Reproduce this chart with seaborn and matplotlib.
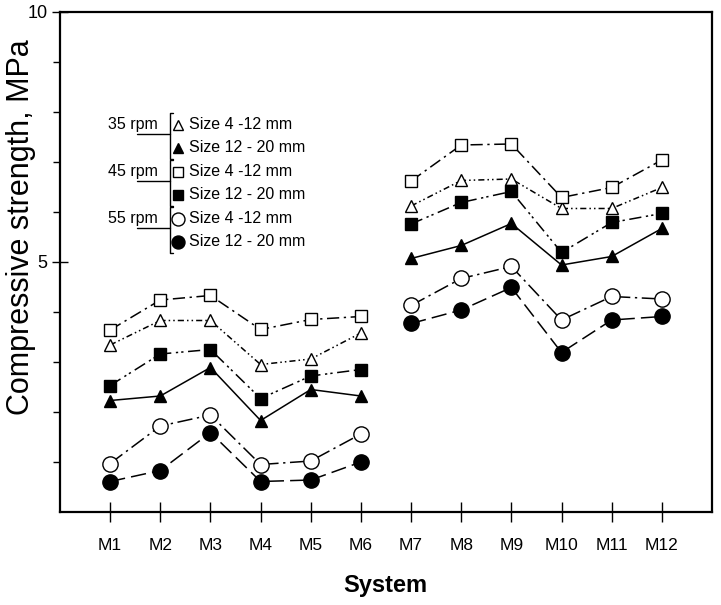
import matplotlib
matplotlib.use("Agg")
import matplotlib.pyplot as plt
from matplotlib.lines import Line2D
import seaborn as sns
import pandas as pd

systems = ["M1", "M2", "M3", "M4", "M5", "M6", "M7", "M8", "M9", "M10", "M11", "M12"]
groups = [1, 1, 1, 1, 1, 1, 2, 2, 2, 2, 2, 2]

# compressive strength, MPa
rpm35_small = [3.34, 3.83, 3.83, 2.95, 3.06, 3.58, 6.12, 6.63, 6.66, 6.07, 6.07, 6.49]
rpm35_large = [2.23, 2.32, 2.89, 1.83, 2.45, 2.32, 5.07, 5.33, 5.77, 4.94, 5.11, 5.67]
rpm45_small = [3.64, 4.24, 4.33, 3.65, 3.85, 3.91, 6.62, 7.34, 7.36, 6.29, 6.49, 7.04]
rpm45_large = [2.53, 3.16, 3.25, 2.27, 2.72, 2.85, 5.76, 6.19, 6.41, 5.19, 5.79, 5.97]
rpm55_small = [0.97, 1.72, 1.94, 0.95, 1.02, 1.56, 4.13, 4.67, 4.91, 3.84, 4.31, 4.26]
rpm55_large = [0.61, 0.83, 1.59, 0.61, 0.64, 1.00, 3.77, 4.04, 4.49, 3.19, 3.84, 3.91]

rpm_labels = ["35 rpm", "45 rpm", "55 rpm"]
size_labels = ["Size 4 -12 mm", "Size 12 - 20 mm"]

# (values, marker, filled, markersize, linestyle)
series = [
    (rpm35_small, "^", False, 8.5, (0, (4, 2, 1, 2, 1, 2))),
    (rpm35_large, "^", True, 8.5, "-"),
    (rpm45_small, "s", False, 8, (0, (8, 3, 1.5, 3))),
    (rpm45_large, "s", True, 8, (0, (8, 3, 1.5, 2, 1.5, 3))),
    (rpm55_small, "o", False, 11, (0, (10, 3, 1.5, 3))),
    (rpm55_large, "o", True, 11, (0, (10, 4))),
]

sns.set_theme(style="ticks", rc={"text.color": "black", "axes.labelcolor": "black",
                                 "xtick.color": "black", "ytick.color": "black",
                                 "axes.edgecolor": "black"})
plt.rcParams["font.family"] = ["Liberation Sans", "DejaVu Sans"]

fig = plt.figure(figsize=(7.21, 6.05), dpi=100)
ax = fig.add_axes([0.0832, 0.1537, 0.9043, 0.8265])

for vals, mk, filled, ms, ls in series:
    df = pd.DataFrame({"System": systems, "Strength": vals, "group": groups})
    sns.lineplot(data=df, x="System", y="Strength", units="group", estimator=None,
                 sort=False, ax=ax, color="black", linewidth=1.1, linestyle=ls,
                 marker=mk, markersize=ms,
                 markerfacecolor="black" if filled else "white",
                 markeredgecolor="black", markeredgewidth=1.0)

ax.set_xlim(-1, 12)
ax.set_ylim(0, 10)
ax.set_yticks([5, 10])
ax.set_yticks([1, 2, 3, 4, 6, 7, 8, 9], minor=True)
ax.tick_params(axis="y", which="major", direction="inout", length=12, width=1,
               labelsize=13, pad=3)
ax.tick_params(axis="y", which="minor", direction="out", length=5, width=1)
ax.tick_params(axis="x", which="major", direction="inout", length=14, width=1,
               labelsize=12.5, pad=12)
for sp in ax.spines.values():
    sp.set_visible(True)
    sp.set_linewidth(1.6)
ax.set_xlabel("")
ax.set_ylabel("")

fig.text(0.029, 0.624, "Compressive strength, MPa", rotation=90,
         ha="center", va="center", fontsize=22)
fig.text(0.535, 0.033, "System", ha="center", va="center",
         fontsize=17, fontweight="bold")

# bracketed legend
tr = ax.transAxes
rpm_y = [0.774, 0.680, 0.586]
row_gap = 0.046
for i, lab in enumerate(rpm_labels):
    y0 = rpm_y[i]
    ax.text(0.0736, y0, lab, transform=tr, fontsize=11.5, va="center", ha="left")
    ax.add_line(Line2D([0.118, 0.169], [y0 - 0.019, y0 - 0.019], transform=tr,
                       color="black", lw=1))
    top, bot = y0 + 0.024, y0 - row_gap - 0.022
    ax.add_line(Line2D([0.1735, 0.169, 0.169, 0.1735], [top, top, bot, bot],
                       transform=tr, color="black", lw=1))
    for j in range(2):
        _, mk, filled, ms, _ = series[2 * i + j]
        yy = y0 - j * row_gap
        ax.add_line(Line2D([0.181], [yy], transform=tr, marker=mk,
                           markersize=ms * 0.85, color="black",
                           markerfacecolor="black" if filled else "white",
                           markeredgecolor="black", markeredgewidth=1.0, linestyle=""))
        ax.text(0.198, yy, size_labels[j], transform=tr, fontsize=11.5,
                va="center", ha="left")

fig.savefig("out.png", dpi=100)
